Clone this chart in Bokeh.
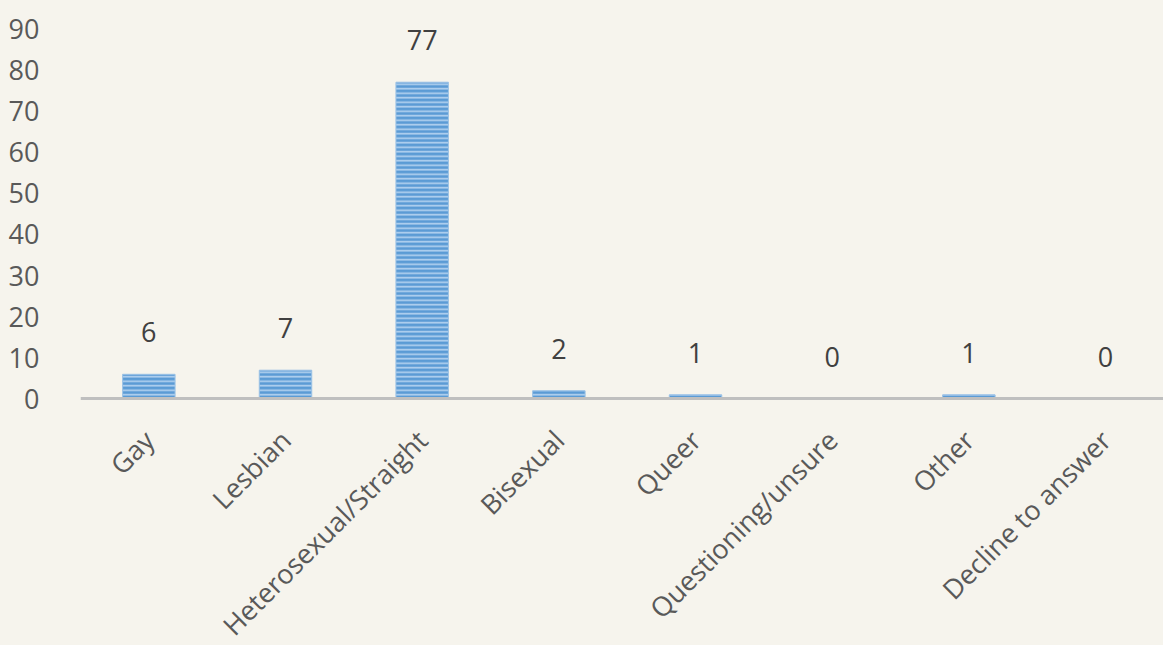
import math
from bokeh.plotting import figure
from bokeh.models import Range1d, FixedTicker, ColumnDataSource, LabelSet
from bokeh.core.properties import value
from bokeh.embed import file_html
from bokeh.resources import INLINE

categories = ["Gay", "Lesbian", "Heterosexual/Straight", "Bisexual", "Queer",
              "Questioning/unsure", "Other", "Decline to answer"]
counts = [6, 7, 77, 2, 1, 0, 1, 0]
y_ticks = [0, 10, 20, 30, 40, 50, 60, 70, 80, 90]

BG = "#f6f4ed"
FONT = "Open Sans"

positions = list(range(len(categories)))
src = ColumnDataSource(dict(x=positions, top=counts, label=[str(c) for c in counts]))

p = figure(width=1163, height=645, output_backend="svg", toolbar_location=None,
           x_range=Range1d(-0.5, 7.424), y_range=Range1d(-59.92, 96.86),
           min_border_left=80, min_border_right=0, min_border_top=0, min_border_bottom=0)

p.background_fill_color = BG
p.border_fill_color = BG
p.outline_line_color = None
p.grid.visible = False

p.vbar(x="x", top="top", bottom=0, width=0.384, source=src,
       fill_color="#5b9bd5", line_color="#9dc3e6", line_width=1,
       hatch_pattern="horizontal_line", hatch_color="#b7d4f0",
       hatch_scale=4.5, hatch_weight=1.6)

labels = LabelSet(x="x", y="top", text="label", source=src, y_offset=42,
                  text_align="center", text_baseline="middle",
                  text_font=value(FONT), text_font_size="27px", text_color="#404040")
p.add_layout(labels)

# y axis
ya = p.yaxis[0]
ya.ticker = FixedTicker(ticks=y_ticks)
ya.axis_line_color = None
ya.major_tick_line_color = None
ya.minor_tick_line_color = None
ya.major_label_standoff = 35
ya.major_label_text_font = FONT
ya.major_label_text_font_size = "27px"
ya.major_label_text_color = "#595959"

# x axis, drawn at the zero line
xa = p.xaxis[0]
xa.fixed_location = 0
xa.ticker = FixedTicker(ticks=positions)
xa.major_label_overrides = {i: c for i, c in enumerate(categories)}
xa.major_label_orientation = math.pi / 4
xa.axis_line_color = "#bfbfbf"
xa.axis_line_width = 3
xa.major_tick_line_color = None
xa.minor_tick_line_color = None
xa.major_label_standoff = 30
xa.major_label_text_font = FONT
xa.major_label_text_font_size = "27px"
xa.major_label_text_color = "#595959"

html = file_html(p, INLINE)
html = html.replace("</head>", "<style>html, body {background-color: %s;}</style></head>" % BG, 1)
open("out.html", "w").write(html)
